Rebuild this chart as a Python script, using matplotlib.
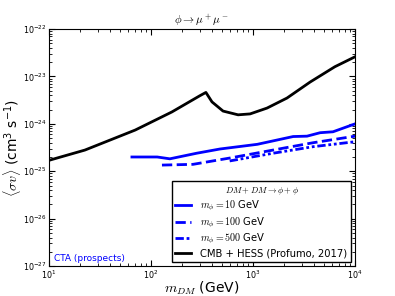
import matplotlib
matplotlib.use("Agg")
import matplotlib.pyplot as plt
from matplotlib.ticker import FuncFormatter
import numpy as np

plt.rcParams['mathtext.fontset'] = 'cm'

# CMB + HESS (Profumo, 2017)
m_cmb = [10, 22.5, 70, 160, 300, 345, 396, 508, 713, 935, 1370, 2150, 3620, 6330, 10000]
sv_cmb = [1.7e-25, 2.8e-25, 7.4e-25, 1.78e-24, 3.9e-24, 4.6e-24, 2.9e-24, 1.86e-24,
          1.55e-24, 1.62e-24, 2.15e-24, 3.5e-24, 7.6e-24, 1.6e-23, 2.6e-23]

# CTA prospects, m_phi = 10 GeV
m_10 = [65, 115, 153, 280, 475, 1100, 2470, 3380, 4540, 6070, 10000]
sv_10 = [2.0e-25, 2.0e-25, 1.83e-25, 2.4e-25, 2.95e-25, 3.7e-25, 5.4e-25, 5.5e-25,
         6.5e-25, 6.8e-25, 1.0e-24]

# m_phi = 100 GeV
m_100 = [128, 258, 590, 1570, 3880, 10000]
sv_100 = [1.35e-25, 1.4e-25, 1.9e-25, 2.8e-25, 4.0e-25, 5.5e-25]

# m_phi = 500 GeV
m_500 = [590, 1570, 3880, 10000]
sv_500 = [1.65e-25, 2.4e-25, 3.3e-25, 4.2e-25]

x_ticks = [1e1, 1e2, 1e3, 1e4]
y_ticks = [1e-27, 1e-26, 1e-25, 1e-24, 1e-23, 1e-22]


def sci(v, pos):
    return r'$\mathregular{10^{%d}}$' % int(round(np.log10(v)))


fig = plt.figure(figsize=(3.95, 2.96), dpi=100)
ax = fig.add_axes([0.124, 0.101, 0.775, 0.801])

ax.plot(m_10, sv_10, color='blue', lw=2, label=r'$m_\phi = 10$ GeV')
ax.plot(m_100, sv_100, color='blue', lw=2, ls='--', label=r'$m_\phi = 100$ GeV')
ax.plot(m_500, sv_500, color='blue', lw=2, ls=(0, (3, 1, 1, 1, 1, 1)), label=r'$m_\phi = 500$ GeV')
ax.plot(m_cmb, sv_cmb, color='black', lw=2, label='CMB + HESS (Profumo, 2017)')

ax.set_xscale('log')
ax.set_yscale('log')
ax.set_xticks(x_ticks)
ax.set_yticks(y_ticks)
ax.set_xlim(10, 1e4)
ax.set_ylim(1e-27, 1e-22)
ax.xaxis.set_major_formatter(FuncFormatter(sci))
ax.yaxis.set_major_formatter(FuncFormatter(sci))
ax.tick_params(which='both', direction='in', top=True, right=True, labelsize=5.8, pad=1.5)
ax.tick_params(which='major', length=4)
ax.tick_params(which='minor', length=2)

ax.set_xlabel(r'$m_{DM}$ (GeV)', fontsize=10, labelpad=-1)
ax.set_ylabel(r'$\langle\sigma v\rangle$ (cm$\mathregular{^3}$ s$\mathregular{^{-1}}$)', fontsize=10, labelpad=0)
ax.set_title(r'$\phi \rightarrow \mu^+\mu^-$', fontsize=8, pad=3)

ax.text(0.015, 0.02, 'CTA (prospects)', color='blue', fontsize=6.5, transform=ax.transAxes)

leg = ax.legend(loc='lower right', fontsize=7.2, title=r'$DM + DM \rightarrow \phi + \phi$',
                title_fontsize=6.2, fancybox=False, edgecolor='black', framealpha=1,
                borderaxespad=0.4, handlelength=1.6, labelspacing=0.22, borderpad=0.35,
                handletextpad=0.9)

fig.savefig('out.png', dpi=100)
